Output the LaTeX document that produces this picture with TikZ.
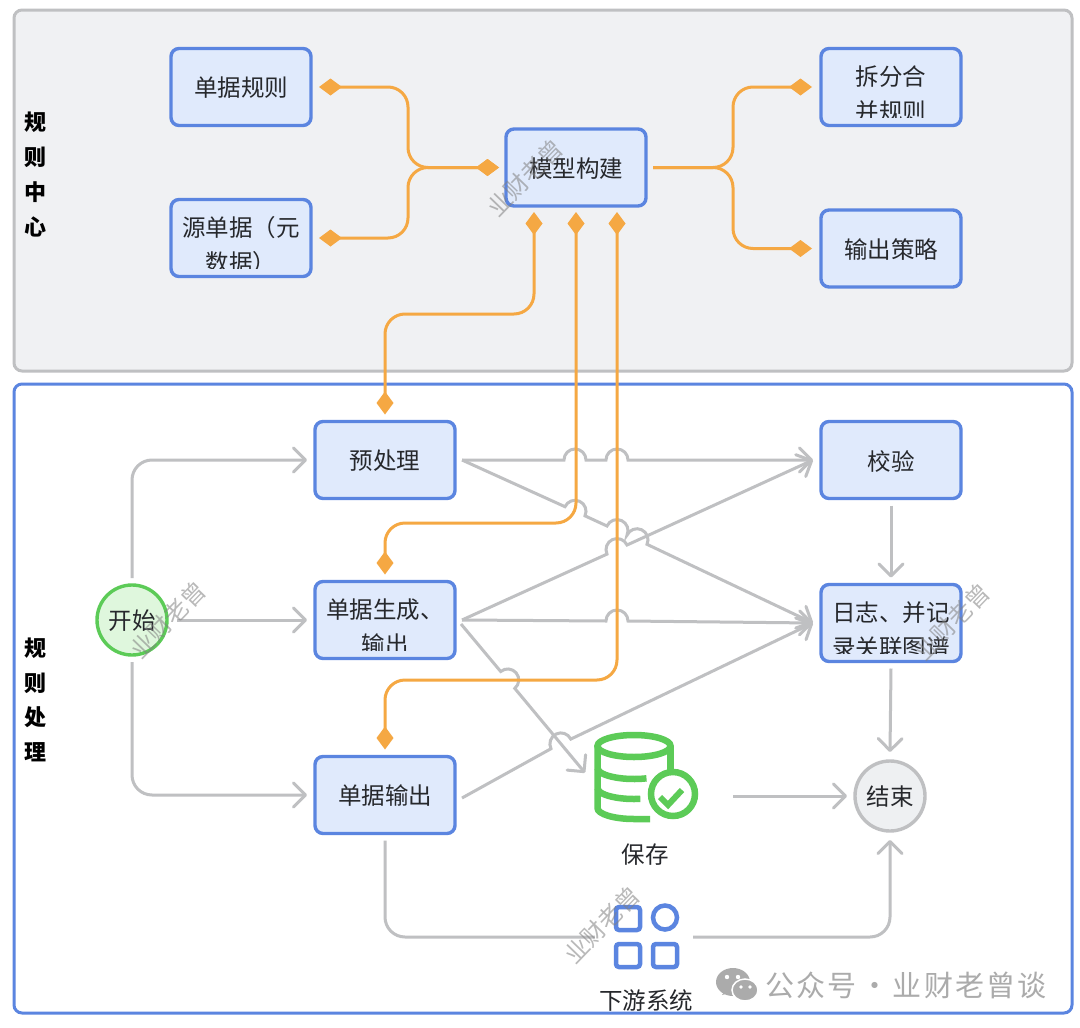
\documentclass[tikz,border=0pt]{standalone}
\usepackage{fontspec}
\setmainfont{Noto Sans CJK SC}
\newfontfamily\brandfont[LetterSpace=7]{Noto Sans CJK SC}
\usetikzlibrary{arrows.meta, positioning, calc}

\definecolor{boxfill}{HTML}{E0EAFC}
\definecolor{boxline}{HTML}{5B85E0}
\definecolor{panelfill}{HTML}{F0F1F3}
\definecolor{flowline}{HTML}{BFC0C2}
\definecolor{bondline}{HTML}{F5A843}
\definecolor{greenline}{HTML}{5CCB57}
\definecolor{greenfill}{HTML}{DFF7DD}
\definecolor{endfill}{HTML}{EEF0F2}
\definecolor{brandgray}{HTML}{ABABAB}
\definecolor{textdark}{HTML}{26282C}

% text that runs past the padding of its box is cut off
\newcommand{\cliptext}[3]{%
  \begin{scope}
    \clip ($(#1.south west)+(0,-8)$) rectangle (#1.north east);
    \node[boxtext, yshift=-7pt] (#1text) at (#1) {#2\\#3};
  \end{scope}}

\begin{document}
\begin{tikzpicture}[
    x=1pt, y=-1pt,
    box/.style={rectangle, draw=boxline, fill=boxfill, line width=3.4pt, rounded corners=8pt, minimum width=140pt, minimum height=77pt, inner sep=0pt, outer sep=0pt},
    boxtext/.style={align=center, inner sep=0pt, text=textdark, font=\fontsize{23.5}{35}\selectfont},
    round/.style={circle, draw, line width=3.4pt, minimum size=70pt, inner sep=0pt, outer sep=0pt},
    sidelabel/.style={align=center, inner sep=0pt, text=black, font=\fontsize{22}{34.7}\selectfont\bfseries},
    iconlabel/.style={inner sep=0pt, text=textdark, font=\fontsize{23.5}{28}\selectfont},
    stamp/.style={inner sep=0pt, rotate=46, text=gray, opacity=0.55, font=\fontsize{24}{28}\selectfont},
    flow/.style={draw=flowline, line width=3pt, -{Straight Barb[length=12pt,width=24pt,round]}},
    flowbend/.style={flow, rounded corners=20pt},
    bond/.style={draw=bondline, line width=3pt, rounded corners=20pt, {Diamond[length=23pt,width=17pt]}-{Diamond[length=23pt,width=17pt]}},
    bondto/.style={draw=bondline, line width=3pt, rounded corners=20pt, -{Diamond[length=23pt,width=17pt]}}]
    \useasboundingbox (0,0) rectangle (1080,1028);
    \fill[white] (0,0) rectangle (1080,1028);

    % Panels
    \draw[draw=flowline, fill=panelfill, line width=3pt, rounded corners=8pt] (14,10) rectangle (1072,371);
    \draw[draw=boxline, fill=white, line width=3pt, rounded corners=8pt] (14,384) rectangle (1072,1013);
    \node[sidelabel] (rulecenter) at (35,174.5) {规\\则\\中\\心};
    \node[sidelabel] (ruleprocess) at (35,700) {规\\则\\处\\理};

    % Nodes
    \node[box] (docrule) at (241,87) {};
    \node[box, below=74pt of docrule] (srcdoc) {};
    \node[box] (model) at (576,167.5) {};
    \node[box] (split) at (891,87) {};
    \node[box, below=84.5pt of split] (strategy) {};
    \node[box] (pre) at (385,460) {};
    \node[box, below=83pt of pre] (gen) {};
    \node[box, below=98pt of gen] (out) {};
    \node[box] (check) at (891,460) {};
    \node[box, below=86pt of check] (log) {};
    \node[round, draw=greenline, fill=greenfill] (startnode) at (132,620) {};
    \node[round, draw=flowline, fill=endfill] (endnode) at (890,796) {};
    \node[inner sep=0pt, minimum width=102pt, minimum height=90pt] (save) at (645,778) {};
    \node[iconlabel, below=20pt of save] (savetext) {保存};
    \node[inner sep=0pt, minimum width=66pt, minimum height=64pt] (down) at (646,937) {};
    \node[iconlabel, below=20pt of down] (downtext) {下游系统};

    \node[boxtext, yshift=-1pt] (docruletext) at (docrule) {单据规则};
    \node[boxtext, yshift=-1pt] (modeltext) at (model) {模型构建};
    \node[boxtext, yshift=-1pt] (strategytext) at (strategy) {输出策略};
    \node[boxtext, yshift=-1pt] (pretext) at (pre) {预处理};
    \node[boxtext, yshift=-1pt] (outtext) at (out) {单据输出};
    \node[boxtext, yshift=-1pt] (checktext) at (check) {校验};
    \node[boxtext, yshift=-1pt] (starttext) at (startnode) {开始};
    \node[boxtext, yshift=-1pt] (endtext) at (endnode) {结束};
    \cliptext{srcdoc}{源单据（元}{数据）}
    \cliptext{split}{拆分合}{并规则}
    \cliptext{gen}{单据生成、}{输出}
    \cliptext{log}{日志、并记}{录关联图谱}

    % Arrows
    \draw[flowbend] ([yshift=7pt]startnode.north) -- (132,460) -- ([xshift=-8pt]pre.west);
    \draw[flow] ([xshift=10pt]startnode.east) -- ([xshift=-8pt]gen.west);
    \draw[flowbend] ([yshift=-7pt]startnode.south) -- (132,795) -- ([xshift=-8pt]out.west);
    \draw[flow] ([xshift=7pt]pre.east) -- (564,460) arc[start angle=180, end angle=0, radius=11pt] -- (606,460) arc[start angle=180, end angle=0, radius=11pt] -- ([xshift=-8pt]check.west);
    \draw[flow] ([xshift=7pt]pre.east) -- (565,506.7) arc[start angle=155.4, end angle=-24.6, radius=11pt] -- (607,526) arc[start angle=155.4, end angle=-24.6, radius=11pt] arc[start angle=155.4, end angle=-24.6, radius=11pt] -- ([xshift=-8pt]log.west);
    \draw[flow] ([xshift=7pt]gen.east) -- (607,554.1) arc[start angle=204.4, end angle=24.4, radius=11pt] -- ([xshift=-8pt]check.west);
    \draw[flow] ([xshift=7pt]gen.east) -- (606,621) arc[start angle=180, end angle=0, radius=11pt] -- ([xshift=-8pt]log.west);
    \draw[flow] ([xshift=6pt,yshift=-4pt]gen.east) -- (500.7,671.5) arc[start angle=129.8, end angle=-50.2, radius=11pt] -- ([xshift=-60pt,yshift=-40pt]save.north);
    \draw[flow] ([xshift=7pt,yshift=-3pt]out.east) -- (551,748.7) arc[start angle=205.9, end angle=25.9, radius=11pt] -- ([xshift=-8pt]log.west);
    \draw[flow] ([yshift=-7pt]check.south) -- ([yshift=7pt]log.north);
    \draw[flow] ([yshift=-7pt]log.south) -- ([yshift=9pt]endnode.north);
    \draw[flow] ([xshift=37pt,yshift=-18pt]save.east) -- ([xshift=-8pt]endnode.west);
    \draw[draw=flowline, line width=3pt, rounded corners=20pt] ([yshift=-7pt]out.south) -- (385,937) -- ([xshift=-18pt]down.west);
    \draw[flowbend] ([xshift=14pt]down.east) -- (890,937) -- ([yshift=-9pt]endnode.south);

    \draw[bond] ([xshift=8pt]docrule.east) -- (408,87) -- (408,167.5) -- ([xshift=-7pt]model.west);
    \draw[bond] ([xshift=8pt]srcdoc.east) -- (408,238) -- (408,167.5) -- ([xshift=-7pt]model.west);
    \draw[bondto] ([xshift=7pt]model.east) -- (733,167.5) -- (733,87) -- ([xshift=-9pt]split.west);
    \draw[bondto] ([xshift=7pt]model.east) -- (733,167.5) -- (733,248.5) -- ([xshift=-9pt]strategy.west);
    \draw[bond] ([xshift=-42pt,yshift=-6pt]model.south) -- (534,314) -- (385,314) -- ([yshift=7pt]pre.north);
    \draw[bond] ([yshift=-6pt]model.south) -- (576,523) -- (385,523) -- ([yshift=7pt]gen.north);
    \draw[bond] ([xshift=41pt,yshift=-6pt]model.south) -- (617,680) -- (385,680) -- ([yshift=7pt]out.north);

    % Save icon
    \begin{scope}[draw=greenline, line width=6.5pt]
        \draw (634,746) ellipse [x radius=36.5pt, y radius=11pt];
        \draw (597.5,746) -- (597.5,808) arc[start angle=180, end angle=270, x radius=36.5pt, y radius=11pt] -- (650,819);
        \draw (670.5,746) -- (670.5,775);
        \draw (597.5,768) arc[start angle=180, end angle=290, x radius=36.5pt, y radius=11pt];
        \draw (597.5,788) arc[start angle=180, end angle=280, x radius=36.5pt, y radius=11pt];
        \draw[fill=white] (673,794) circle [radius=22pt];
        \draw[line width=6pt] (660,797) -- (668,805) -- (682,790);
    \end{scope}

    % Downstream icon
    \begin{scope}[draw=boxline, line width=4.5pt]
        \draw[rounded corners=3pt] (616,907) rectangle (640,930);
        \draw (665,917.5) circle [radius=12pt];
        \draw[rounded corners=3pt] (616,944) rectangle (640,967);
        \draw[rounded corners=3pt] (653,944) rectangle (677,967);
    \end{scope}

    % Marks
    \node[stamp] (stampa) at (525,178) {业财老曾};
    \node[stamp] (stampb) at (168,620) {业财老曾};
    \node[stamp] (stampc) at (952,622) {业财老曾};
    \node[stamp] (stampd) at (602,925) {业财老曾};
    \fill[brandgray] (733,982) ellipse [x radius=17pt, y radius=14pt];
    \fill[brandgray] (722,995) -- (726,990) -- (733,992) -- cycle;
    \fill[brandgray, draw=white, line width=1.5pt] (745,990) ellipse [x radius=13pt, y radius=11pt];
    \fill[white] (727,977) circle [radius=2.2pt] (738,977) circle [radius=2.2pt];
    \fill[white] (741,987) circle [radius=1.8pt] (750,987) circle [radius=1.8pt];
    \node[inner sep=0pt, text=brandgray, font=\fontsize{29}{32}\brandfont] (brand) at (906,985) {公众号\kern-5pt{} · \kern-5pt业财老曾谈};
\end{tikzpicture}
\end{document}
